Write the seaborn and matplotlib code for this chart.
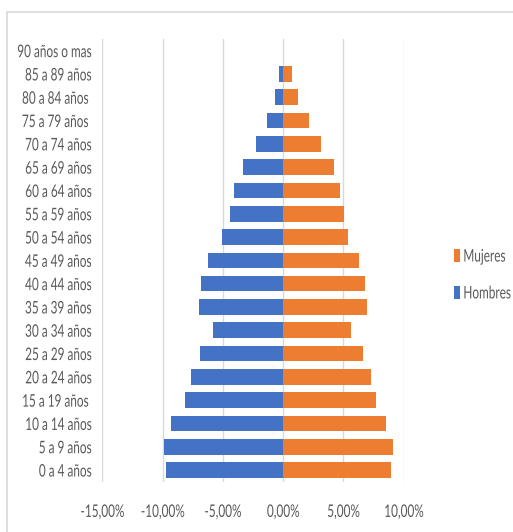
import matplotlib
matplotlib.use("Agg")
import matplotlib.pyplot as plt
from matplotlib.patches import Patch
from matplotlib.lines import Line2D
from matplotlib.patheffects import AbstractPathEffect
from matplotlib.transforms import Affine2D
from matplotlib.ticker import FuncFormatter, MultipleLocator
import pandas as pd
import seaborn as sns

# Grupos de edad (de menor a mayor) y porcentaje de población por sexo
grupos = ["0 a 4 años", "5 a 9 años", "10 a 14 años", "15 a 19 años ",
          "20 a 24 años", "25 a 29 años", "30 a 34 años", "35 a 39 años",
          "40 a 44 años", "45 a 49 años", "50 a 54 años", "55 a 59 años",
          "60 a 64 años", "65 a 69 años", "70 a 74 años", "75 a 79 años ",
          "80 a 84 años ", "85 a 89 años", "90 años o mas"]
hombres = [-9.75, -9.90, -9.32, -8.18, -7.68, -6.91, -5.78, -7.00, -6.85,
           -6.27, -5.03, -4.37, -4.09, -3.35, -2.29, -1.38, -0.66, -0.31, 0.0]
mujeres = [8.97, 9.08, 8.56, 7.73, 7.29, 6.66, 5.66, 6.93, 6.77,
           6.32, 5.41, 5.02, 4.75, 4.20, 3.12, 2.15, 1.27, 0.75, 0.0]

AZUL = "#4472C4"
NARANJA = "#ED7D31"
GRIS_TEXTO = "#595959"
GRIS_LINEA = "#D9D9D9"
ESTRECHO = 0.68   # compresión horizontal del texto (tipografía condensada)
TAM = 12.5


class Condensar(AbstractPathEffect):
    """Comprime el texto en horizontal alrededor de un punto de anclaje."""

    def __init__(self, sx, frac=0.5, x_fijo=None):
        super().__init__()
        self.sx, self.frac, self.x_fijo = sx, frac, x_fijo

    def draw_path(self, renderer, gc, tpath, affine, rgbFace=None):
        if self.x_fijo is not None:
            x0 = self.x_fijo
        else:
            bb = affine.transform_path(tpath).get_extents()
            x0 = bb.x0 + self.frac * bb.width
        t = affine + Affine2D().translate(-x0, 0).scale(self.sx, 1).translate(x0, 0)
        renderer.draw_path(gc, tpath, t, rgbFace)


sns.set_theme(style="white")
plt.rcParams["font.family"] = ["Lato", "DejaVu Sans"]

df = pd.DataFrame({"grupo": grupos, "Hombres": hombres, "Mujeres": mujeres})
orden = grupos[::-1]  # el grupo de más edad arriba

W, H, DPI = 513, 532, 100
fig = plt.figure(figsize=(W / DPI, H / DPI), dpi=DPI)
ax_izq = 102.3
ax = fig.add_axes([ax_izq / W, 50.3 / H, 301.4 / W, 442.7 / H])

sns.barplot(data=df, x="Hombres", y="grupo", order=orden, color=AZUL,
            saturation=1, width=0.667, orient="h", ax=ax, linewidth=0)
sns.barplot(data=df, x="Mujeres", y="grupo", order=orden, color=NARANJA,
            saturation=1, width=0.667, orient="h", ax=ax, linewidth=0)

ax.set_xlim(-15, 10)
ax.set_ylim(len(grupos) - 0.5, -0.5)
ax.xaxis.set_major_locator(MultipleLocator(5))
ax.xaxis.set_major_formatter(
    FuncFormatter(lambda v, _: f"{v:.2f}%".replace(".", ",")))
ax.grid(axis="x", color=GRIS_LINEA, linewidth=1.0, zorder=0)
ax.set_axisbelow(True)
for s in ax.spines.values():
    s.set_visible(False)
ax.set_xlabel("")
ax.set_ylabel("")
pad_y = 7.5
ax.tick_params(axis="y", length=0, pad=pad_y, labelsize=TAM, labelcolor=GRIS_TEXTO)
ax.tick_params(axis="x", length=0, pad=16, labelsize=TAM, labelcolor=GRIS_TEXTO)

x_der = ax_izq - pad_y * DPI / 72
for lab in ax.get_yticklabels():
    lab.set_path_effects([Condensar(ESTRECHO, x_fijo=x_der)])
for lab in ax.get_xticklabels():
    lab.set_path_effects([Condensar(ESTRECHO, frac=0.5)])

handles = [Patch(facecolor=NARANJA, edgecolor="none", label="Mujeres"),
           Patch(facecolor=AZUL, edgecolor="none", label="Hombres")]
leg = fig.legend(handles=handles, loc="center left",
                 bbox_to_anchor=(438 / W, 1 - 275 / H), frameon=False,
                 fontsize=TAM, labelcolor=GRIS_TEXTO, handlelength=0.38,
                 handleheight=0.75, handletextpad=0.15, labelspacing=1.2)
for t in leg.get_texts():
    t.set_path_effects([Condensar(ESTRECHO, frac=0.0)])

# Marco del área del gráfico
fig.add_artist(Line2D([7 / W, 7 / W], [0, 1 - 12 / H],
                      color=GRIS_LINEA, linewidth=1.2))
fig.add_artist(Line2D([7 / W, 1], [1 - 12 / H, 1 - 12 / H],
                      color=GRIS_LINEA, linewidth=1.2))

fig.savefig("out.png", dpi=DPI, facecolor="white")
